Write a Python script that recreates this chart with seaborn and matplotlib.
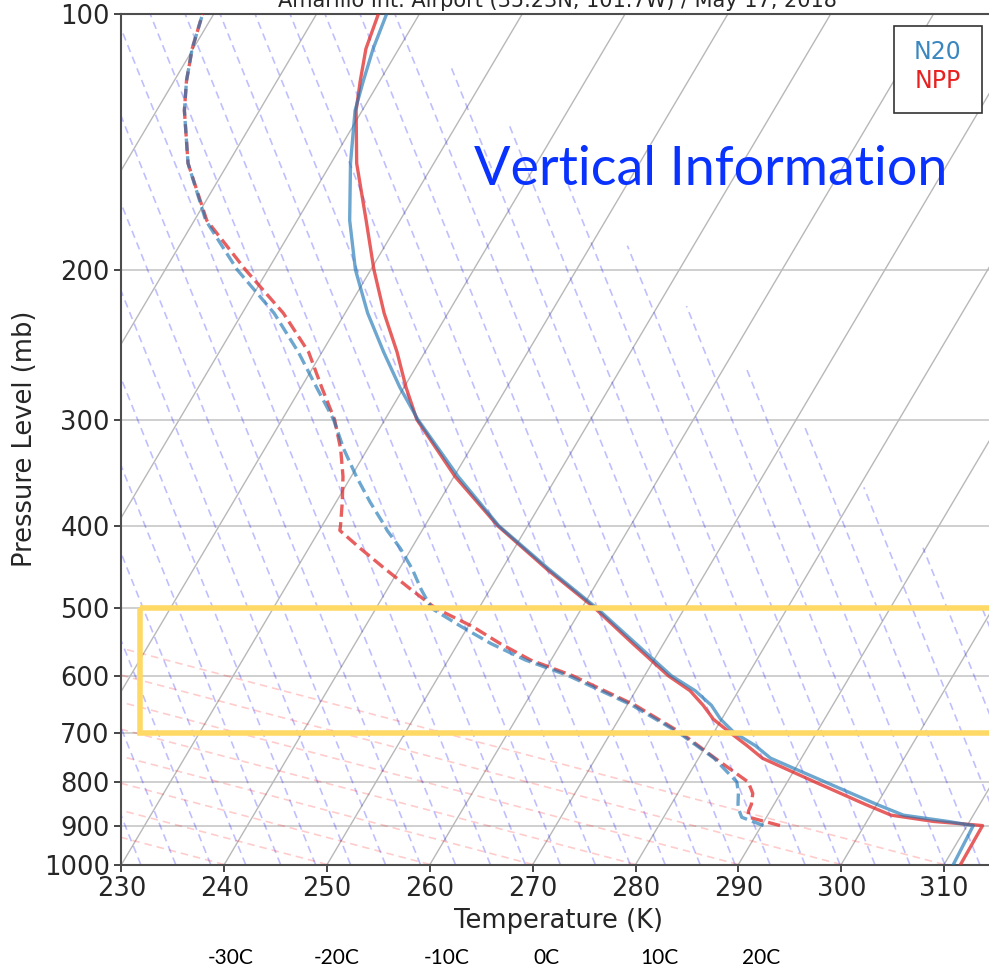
import numpy as np
import pandas as pd
import matplotlib
matplotlib.use('Agg')
import matplotlib.pyplot as plt
import seaborn as sns
from matplotlib.patches import Rectangle

# Skew-T sounding, Amarillo, May 17 2018
# temperature profiles (K) on pressure levels (mb)
p_temp = [100, 110, 120, 130, 150, 175, 200, 225, 250, 275, 300, 350, 400, 450,
          500, 550, 600, 625, 650, 675, 700, 725, 750, 775, 800, 850, 875, 890,
          900, 1000]
n20_temp = [206.8, 207.5, 208.4, 209.3, 211.9, 215.1, 218.5, 222.2, 226.0, 229.6,
            233.2, 240.4, 247.2, 254.6, 261.5, 267.3, 272.6, 275.8, 278.2, 279.9,
            282.0, 284.8, 287.0, 290.4, 293.7, 300.0, 303.2, 307.9, 310.6, 310.9]
npp_temp = [206.0, 206.8, 208.1, 209.4, 212.5, 216.7, 220.3, 223.8, 227.3, 230.2,
            233.1, 240.1, 247.1, 254.4, 261.3, 267.0, 272.3, 275.3, 277.4, 279.2,
            281.6, 284.0, 286.2, 289.5, 292.7, 298.9, 302.0, 306.5, 311.5, 311.6]

# dewpoint profiles (K)
p_dew = [100, 110, 120, 130, 150, 175, 200, 225, 250, 275, 300, 325, 350, 375,
         400, 405, 425, 450, 475, 500, 525, 550, 575, 600, 650, 700, 750, 800,
         825, 850, 865, 875, 880, 900]
n20_dew = [188.9, 189.9, 191.2, 192.7, 196.1, 201.1, 207.0, 213.1, 217.7, 221.5,
           225.0, 227.7, 230.5, 233.3, 236.1, 236.6, 238.9, 241.3, 243.3, 245.4,
           249.3, 253.2, 257.5, 262.6, 270.5, 276.6, 281.5, 285.1, 285.9, 286.5,
           287.0, 287.4, 287.6, 290.2]
npp_dew = [188.9, 189.9, 191.2, 192.7, 196.1, 201.2, 207.8, 214.0, 218.7, 222.0,
           225.1, 227.4, 229.2, 230.6, 231.8, 232.0, 235.0, 238.7, 242.3, 245.8,
           250.4, 254.1, 258.0, 263.0, 270.8, 276.8, 281.6, 286.2, 287.3, 287.8,
           287.9, 288.1, 288.3, 291.8]

p_ticks = [100, 200, 300, 400, 500, 600, 700, 800, 900, 1000]
t_ticks = [230, 240, 250, 260, 270, 280, 290, 300, 310]
celsius_labels = ['-30C', '-20C', '-10C', '0C', '10C', '20C']
sat_names = ['N20', 'NPP']
title = 'Amarillo Int. Airport (35.23N, 101.7W) / May 17, 2018'

SKEW = 49.0  # K shift per decade of pressure


def skew_x(t, p):
    return np.asarray(t) + SKEW * np.log10(1000.0 / np.asarray(p))


sns.set_style('ticks')
fig = plt.figure(figsize=(9.89, 9.73), dpi=100)
ax = fig.add_axes([0.12285, 0.11151, 0.88372, 0.87461])
ax.set_yscale('log')
ax.set_xlim(230, 315)
ax.set_ylim(1000, 100)

# background: horizontal isobars
for p in p_ticks:
    ax.axhline(p, color='0.8', lw=1.3, zorder=0)

L = np.linspace(0, 1, 200)
pp = 1000.0 * 10 ** (-L)
# skewed isotherms
for t in range(100, 330, 10):
    ax.plot(t + SKEW * L, pp, color='0.72', lw=1, zorder=0.5)
# blue dashed guide lines (they stop short in the upper right)
for x0 in np.arange(265.87 - 3.40 * 12, 345, 3.40):
    lmax = min(1.0, (338.1 - x0) / 47.9)
    if lmax <= 0:
        continue
    Lb = np.linspace(0, lmax, 100)
    ax.plot(x0 - 33.1 * Lb, 1000.0 * 10 ** (-Lb), color='blue', alpha=0.25, lw=1.2,
            dashes=(4.5, 3), zorder=0.5)
# pink dashed guide lines
Lp = np.linspace(0, 0.3, 50)
for x0 in range(240, 320, 10):
    ax.plot(x0 - 314.8 * Lp, 1000.0 * 10 ** (-Lp), color='red', alpha=0.2, lw=1.2,
            dashes=(4.5, 3), zorder=0.5)

temp = pd.DataFrame({'p': p_temp * 2,
                     'x': np.concatenate([skew_x(npp_temp, p_temp), skew_x(n20_temp, p_temp)]),
                     'sat': ['NPP'] * len(p_temp) + ['N20'] * len(p_temp)})
dew = pd.DataFrame({'p': p_dew[::-1] * 2,
                    'x': np.concatenate([skew_x(npp_dew, p_dew)[::-1], skew_x(n20_dew, p_dew)[::-1]]),
                    'sat': ['NPP'] * len(p_dew) + ['N20'] * len(p_dew)})
pal = {'N20': '#1f77b4', 'NPP': '#e02a2a'}

for sat, a in [('NPP', 0.75), ('N20', 0.65)]:
    sns.lineplot(data=temp[temp.sat == sat], x='x', y='p', sort=False, estimator=None,
                 color=pal[sat], alpha=a, lw=2.4, ax=ax, zorder=3, legend=False)
    sns.lineplot(data=dew[dew.sat == sat], x='x', y='p', sort=False, estimator=None,
                 color=pal[sat], alpha=a, lw=2.4, ax=ax, zorder=3, legend=False,
                 linestyle='--')

ax.set_yticks(p_ticks)
ax.set_yticklabels([str(p) for p in p_ticks])
ax.yaxis.set_minor_locator(matplotlib.ticker.NullLocator())
ax.set_xticks(t_ticks)
ax.tick_params(labelsize=18.5, length=5, width=1.2)
ax.set_xlabel('Temperature (K)', fontsize=18.5)
ax.set_ylabel('Pressure Level (mb)', fontsize=18.5)
for s in ax.spines.values():
    s.set_linewidth(1.5)
    s.set_color('0.3')

# legend box with coloured names
ax.add_patch(Rectangle((0.8839, 0.8831), 0.1007, 0.1022, transform=ax.transAxes,
                       facecolor='white', edgecolor='0.2', lw=1.2, zorder=7))
for name, c, yp in zip(sat_names, ['#3a87c0', '#e82020'], [52, 81]):
    fig.text(938 / 989, 1 - yp / 973, name, ha='center', va='center', fontsize=17,
             color=c, zorder=8)

# highlighted 500-700 mb layer
ax.add_patch(Rectangle((231.8, 500), 120, 200, fill=False, edgecolor='#ffd966',
                       lw=4, zorder=6, clip_on=False))

fig.text(557 / 989, 1 - 7 / 973, title, ha='center', va='baseline', fontsize=15, color='0.15')
fig.text(474 / 989, 1 - 185 / 973, 'Vertical Information', ha='left', va='baseline',
         fontsize=38.8, color='#0a32ff', family='Lato')

c_pos = [231, 337, 447, 546, 659, 761]
for lab, xp in zip(celsius_labels, c_pos):
    fig.text(xp / 989, 1 - 958 / 973, lab, ha='center', va='center', fontsize=15,
             family='Lato', color='black')

fig.savefig('out.png', dpi=100)
